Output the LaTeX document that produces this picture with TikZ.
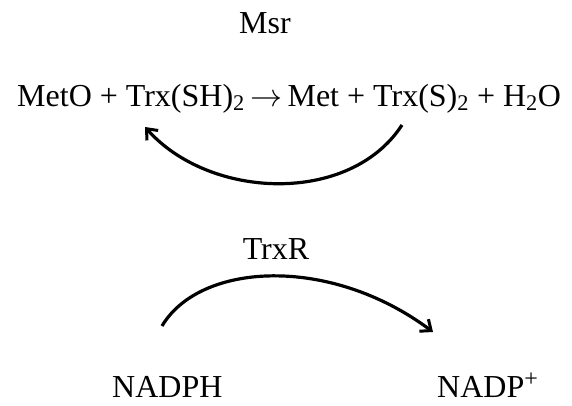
\RequirePackage{fix-cm}
\documentclass[tikz,border=0pt]{standalone}
\usepackage{fontspec}
\setmainfont{Liberation Serif}
\usetikzlibrary{arrows.meta}
\newcommand{\supplus}{\raisebox{11pt}{\fontsize{24}{24}\selectfont +}}
\begin{document}
\begin{tikzpicture}[x=1pt,y=-1pt,
  lbl/.style={inner sep=0pt,font=\fontsize{32}{36}\selectfont},
  cyc/.style={line width=3.2pt,-{Straight Barb[length=9pt,width=15pt,line width=3pt]}}]
\useasboundingbox (0,0) rectangle (572,405);
\node[lbl,anchor=base] (msr) at (265,33) {Msr};
\node[lbl,anchor=base west] (eq) at (17,106) {MetO + Trx(SH)\textsubscript{2}\,$\rightarrow$\,Met + Trx(S)\textsubscript{2} + H\textsubscript{2}O};
\node[lbl,anchor=base] (trxr) at (276,259) {TrxR};
\node[lbl,anchor=base west] (nadph) at (112,397) {NADPH};
\node[lbl,anchor=base west] (nadp) at (437,397) {NADP\supplus};
\coordinate (a1) at (402,125);
\coordinate (a2) at (145,127);
\coordinate (b1) at (162,326);
\coordinate (b2) at (433,332);
\draw[cyc] (a1) .. controls (350,205) and (210,200) .. (a2);
\draw[cyc] (b1) .. controls (200,262) and (330,255) .. (b2);
\end{tikzpicture}
\end{document}
